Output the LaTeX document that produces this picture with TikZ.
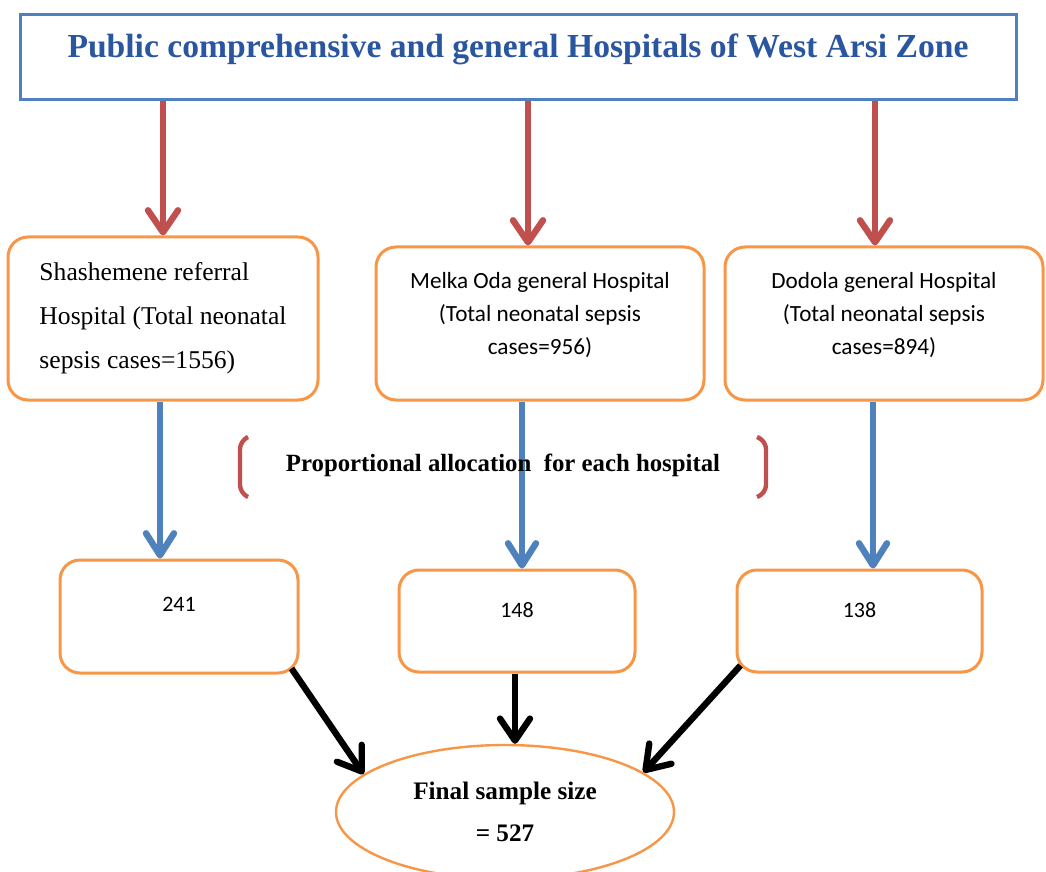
\documentclass[tikz,border=0pt]{standalone}
\usepackage{fontspec}
\setmainfont{Liberation Serif}
\newfontfamily\calibri{Carlito}
\usetikzlibrary{arrows.meta,shapes.geometric,positioning}
\definecolor{boxorange}{HTML}{F79646}
\definecolor{boxblue}{HTML}{4F81BD}
\definecolor{arrowred}{HTML}{C0504D}
\definecolor{titleblue}{HTML}{2A56A0}

\begin{document}
\begin{tikzpicture}[x=0.5pt,y=-0.5pt,
      hosp/.style={draw=boxorange,line width=1.5pt,rounded corners=10pt,fill=white,align=center},
      redarrow/.style={draw=arrowred,line width=3.2pt,-{Straight Barb[length=11pt,width=15pt,round]}},
      bluearrow/.style={draw=boxblue,line width=3.2pt,-{Straight Barb[length=11pt,width=14pt,round]}},
      blackarrow/.style={draw=black,line width=3.2pt,-{Straight Barb[length=11pt,width=15pt,round]}}]
      \useasboundingbox (0,0) rectangle (1046,872);

      % title box
      \node[draw=boxblue,line width=1.5pt,minimum width=498pt,minimum height=42.5pt,
        text depth=12pt,font=\bfseries\fontsize{16.8}{20}\selectfont,text=titleblue] (title) at (518,57.5)
        {Public comprehensive and general Hospitals of West Arsi Zone};

      % hospitals
      \node[hosp,minimum width=155pt,minimum height=81.5pt,align=left,
        font=\fontsize{12.8}{22}\selectfont] (shash) at (163,318.5)
        {Shashemene referral\\Hospital (Total neonatal\\sepsis cases=1556)};
      \node[hosp,minimum width=164pt,minimum height=76.5pt,text depth=10pt,
        font=\calibri\fontsize{11.6}{16.5}\selectfont] (melka) at (540,323.5)
        {Melka Oda general Hospital\\(Total neonatal sepsis\\cases=956)};
      \node[hosp,minimum width=159pt,minimum height=76.5pt,text depth=10pt,
        font=\calibri\fontsize{11.6}{16.5}\selectfont] (dodola) at (884,323.5)
        {Dodola general Hospital\\(Total neonatal sepsis\\cases=894)};

      % allocated numbers
      \node[hosp,minimum width=119pt,minimum height=56.5pt,text depth=12pt,
        font=\calibri\fontsize{11}{12}\selectfont] (shashn) at (179,616.5) {241};
      \node[hosp,minimum width=118pt,minimum height=51pt,text depth=11pt,
        font=\calibri\fontsize{11}{12}\selectfont] (melkan) at (517,621) {148};
      \node[hosp,minimum width=122.5pt,minimum height=51pt,text depth=11pt,
        font=\calibri\fontsize{11}{12}\selectfont] (dodolan) at (859.5,621) {138};

      % final
      \node[ellipse,draw=boxorange,line width=1.2pt,fill=white,minimum width=169pt,minimum height=67pt,
        align=center,font=\bfseries\fontsize{12.6}{21}\selectfont] (final) at (505,812)
        {Final sample size\\= 527};

      % red arrows
      \draw[redarrow] (shash.north |- title.south) -- (shash.north);
      \draw[redarrow] ([xshift=-6pt]melka.north |- title.south) -- ([xshift=-6pt]melka.north);
      \draw[redarrow] ([xshift=-4.5pt]dodola.north |- title.south) -- ([xshift=-4.5pt]dodola.north);

      % blue arrows
      \draw[bluearrow] ([xshift=-1.5pt]shash.south) -- ([xshift=-1.5pt]shash.south |- shashn.north);
      \draw[bluearrow] ([xshift=-9pt]melka.south) -- ([xshift=-9pt]melka.south |- melkan.north);
      \draw[bluearrow] ([xshift=-5.5pt]dodola.south) -- ([xshift=-5.5pt]dodola.south |- dodolan.north);

      % allocation note
      \node[font=\bfseries\fontsize{12.4}{14}\selectfont] (alloc) at (503,465)
        {Proportional allocation\ \ for each hospital};
      \draw[arrowred,line width=2.2pt,rounded corners=4pt] (248,437) -- (240,441) -- (240,493) -- (248,497);
      \draw[arrowred,line width=2.2pt,rounded corners=4pt] (757,437) -- (766,441) -- (766,493) -- (757,497);

      % black arrows
      \draw[blackarrow] ([xshift=-4pt,yshift=3pt]shashn.south east) -- (final.165);
      \draw[blackarrow] ([xshift=-1pt]melkan.south) -- ([xshift=-1pt]melkan.south |- final.north);
      \draw[blackarrow] ([xshift=2.5pt,yshift=4pt]dodolan.south west) -- (final.16);
\end{tikzpicture}
\end{document}
